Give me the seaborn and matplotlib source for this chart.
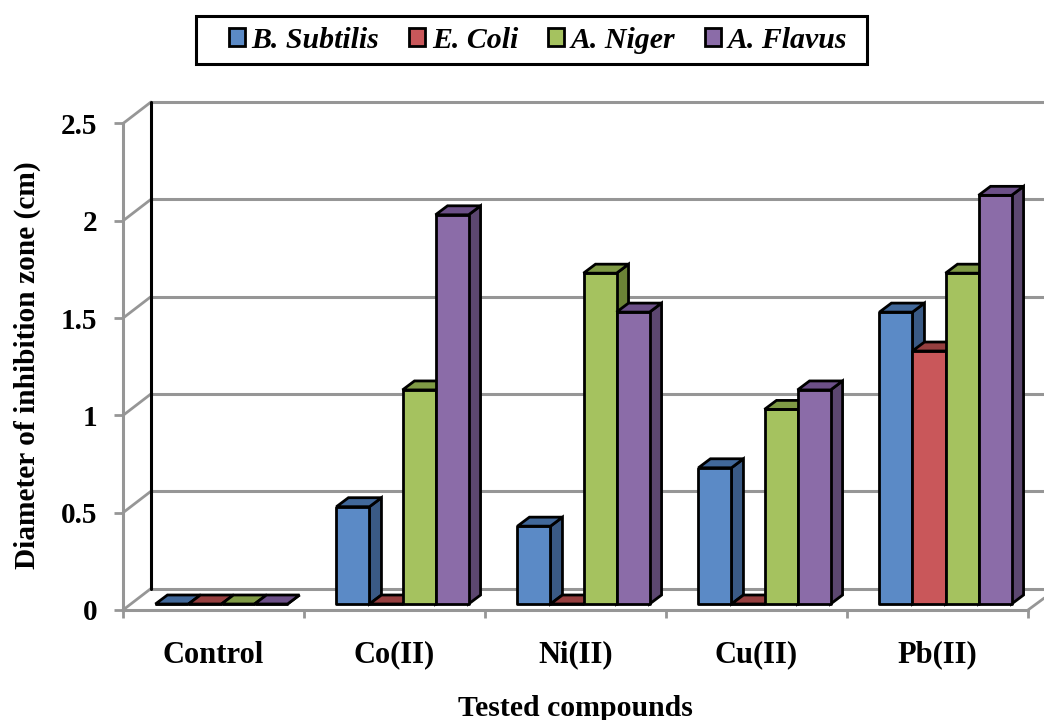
import pandas as pd
import seaborn as sns
import matplotlib.pyplot as plt
from matplotlib.patches import Polygon, Patch, Rectangle

compounds = ["Control", "Co(II)", "Ni(II)", "Cu(II)", "Pb(II)"]
organisms = ["B. Subtilis", "E. Coli", "A. Niger", "A. Flavus"]
b_subtilis = [0, 0.5, 0.4, 0.7, 1.5]
e_coli = [0, 0, 0, 0, 1.3]
a_niger = [0, 1.1, 1.7, 1.0, 1.7]
a_flavus = [0, 2.0, 1.5, 1.1, 2.1]

front_colors = ["#5b8ac6", "#c9575a", "#a5c25f", "#8b6ca8"]
top_colors = ["#41689a", "#963f3f", "#7f9a45", "#6c5088"]
side_colors = ["#3a5a85", "#7f3535", "#6b8336", "#5c4770"]
GRID = "#969696"

sns.set_theme(style="white")
plt.rcParams["font.family"] = ["Liberation Serif", "DejaVu Serif"]
plt.rcParams["font.weight"] = "bold"

# long format for seaborn
df = pd.DataFrame({"compound": compounds, organisms[0]: b_subtilis, organisms[1]: e_coli,
                   organisms[2]: a_niger, organisms[3]: a_flavus})
df = df.melt(id_vars="compound", var_name="organism", value_name="zone")

W, H = 1044, 720
fig = plt.figure(figsize=(W / 100, H / 100), dpi=100)
ax = fig.add_axes([123 / W, 1 - 610 / H, 905 / W, 486.5 / H])

sns.barplot(data=df, x="compound", y="zone", hue="organism", hue_order=organisms,
            palette=front_colors, width=0.73, gap=0, saturation=1, errorbar=None,
            edgecolor="black", linewidth=2, legend=False, ax=ax)

ax.set_xlim(-0.5, 4.5)
ax.set_ylim(0, 2.5)

# pixel sizes turned to data units for the fake 3D look
px_x = 5 / 905
px_y = 2.5 / 486.5
wall_dx, wall_dy = 28 * px_x, 21.5 * px_y
base_dx, base_dy = 8 * px_x, 6 * px_y
bar_dx, bar_dy = 12 * px_x, 9 * px_y

# back wall, gridlines and side wall
ticks = [0, 0.5, 1, 1.5, 2, 2.5]
for t in ticks:
    ax.plot([wall_dx - 0.5, 4.62], [t + wall_dy] * 2, color=GRID, lw=2.2, zorder=1, clip_on=False)
    ax.plot([-0.5, wall_dx - 0.5], [t, t + wall_dy], color=GRID, lw=2, zorder=1, clip_on=False)
ax.plot([wall_dx - 0.5] * 2, [wall_dy, 2.5 + wall_dy], color="black", lw=2.2, zorder=2, clip_on=False)
ax.plot([4.5, 4.59], [0, 12 * px_y], color=GRID, lw=2, zorder=1, clip_on=False)

# move bars off the front plane and add the top and side faces
bars = sorted(ax.patches, key=lambda p: p.get_x())
for i, bar in enumerate(bars):
    color_idx = front_colors.index(next(c for c in front_colors
                                        if plt.matplotlib.colors.same_color(c, bar.get_facecolor())))
    x0 = bar.get_x() + base_dx
    y0 = base_dy
    w = bar.get_width()
    h = bar.get_height()
    bar.set_x(x0)
    bar.set_y(y0)
    bar.set_zorder(3 + i)
    bar.set_clip_on(False)
    bar.set_joinstyle("round")
    top = [(x0, y0 + h), (x0 + w, y0 + h), (x0 + w + bar_dx, y0 + h + bar_dy), (x0 + bar_dx, y0 + h + bar_dy)]
    side = [(x0 + w, y0), (x0 + w + bar_dx, y0 + bar_dy), (x0 + w + bar_dx, y0 + h + bar_dy), (x0 + w, y0 + h)]
    ax.add_patch(Polygon(side, closed=True, facecolor=side_colors[color_idx], edgecolor="black",
                         lw=2, zorder=3 + i - 0.5, clip_on=False))
    ax.add_patch(Polygon(top, closed=True, facecolor=top_colors[color_idx], edgecolor="black",
                         lw=2, zorder=3 + i + 0.5, clip_on=False))

# axes
for name in ["top", "right"]:
    ax.spines[name].set_visible(False)
for name in ["left", "bottom"]:
    ax.spines[name].set_color(GRID)
    ax.spines[name].set_linewidth(2.2)
ax.patch.set_alpha(0)

ax.set_yticks(ticks)
ax.set_yticklabels(["0", "0.5", "1", "1.5", "2", "2.5"], fontsize=21, fontweight="bold", color="black")
ax.set_xticks(range(len(compounds)))
ax.set_xticklabels(compounds, fontsize=22, fontweight="bold", color="black")
ax.set_xticks([-0.5, 0.5, 1.5, 2.5, 3.5, 4.5], minor=True)
ax.tick_params(axis="y", length=6.5, width=2, color=GRID, pad=12, left=True)
ax.tick_params(axis="x", which="major", length=0, pad=22)
ax.tick_params(axis="x", which="minor", length=6, width=2, color=GRID, bottom=True)

ax.set_xlabel("")
ax.set_ylabel("")
fig.text(575 / W, 1 - 708 / H, "Tested compounds", fontsize=21.4, fontweight="bold", color="black",
         ha="center", va="center")
fig.text(27 / W, 1 - 365 / H, "Diameter of inhibition zone (cm)", fontsize=21.2, fontweight="bold",
         color="black", rotation=90, ha="center", va="center")

# legend entries, the black box is drawn separately since its padding is uneven
fig.add_artist(Rectangle((196 / W, 1 - 64 / H), 671 / W, 48 / H, transform=fig.transFigure,
                         facecolor="white", edgecolor="black", lw=2.2))
handles = [Patch(facecolor=c, edgecolor="black", linewidth=2, label=o) for c, o in zip(front_colors, organisms)]
leg = fig.legend(handles=handles, ncol=4, loc="center", bbox_to_anchor=(538 / W, 1 - 40 / H),
                 frameon=False,
                 prop={"family": "Liberation Serif", "style": "italic", "weight": "bold", "size": 21.5},
                 labelcolor="black", handlelength=0.53, handleheight=0.53, handletextpad=0.23,
                 columnspacing=1.0, borderpad=0.2)

fig.savefig("out.png", dpi=100)
